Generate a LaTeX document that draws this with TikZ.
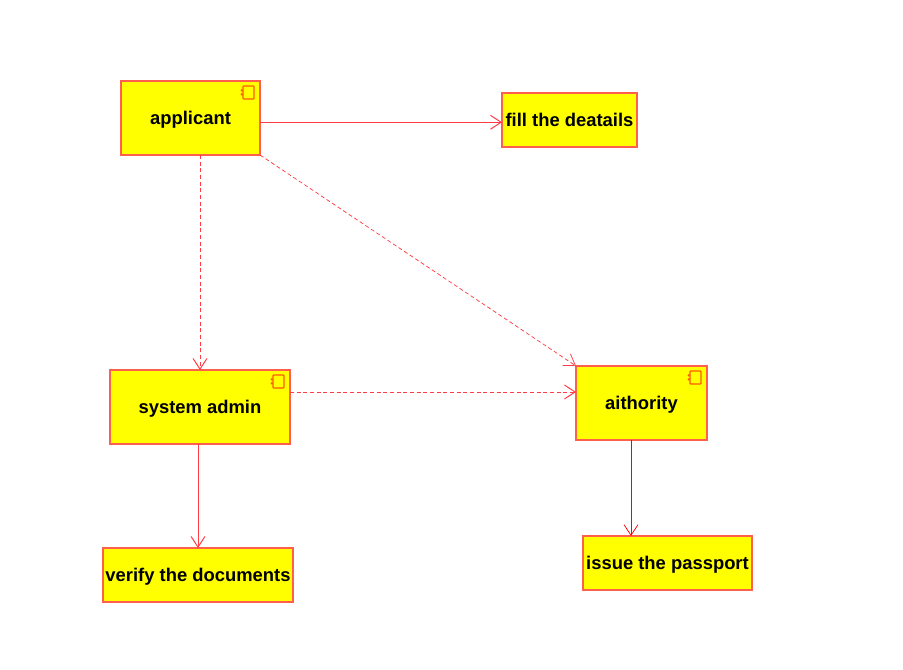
\documentclass[tikz,border=0pt]{standalone}
\usepackage{fontspec}
\setmainfont{Liberation Sans}
\usetikzlibrary{arrows.meta,positioning}
\definecolor{boxyellow}{RGB}{255,255,0}
\definecolor{boxline}{RGB}{255,95,75}
\definecolor{iconline}{RGB}{255,90,0}
\definecolor{arrline}{RGB}{255,60,70}
% small component mark in the corner of a box
\newcommand{\compmark}[1]{%
  \draw[iconline, line width=0.9pt, rounded corners=0.6pt]
    ([xshift=-12.75pt,yshift=-3.75pt]#1.north east) rectangle
    ([xshift=-4.5pt,yshift=-13.5pt]#1.north east);
  \fill[iconline] ([xshift=-13.6pt,yshift=-7pt]#1.north east) circle (1pt);
  \fill[iconline] ([xshift=-13.6pt,yshift=-10pt]#1.north east) circle (1pt);
}
\begin{document}
\begin{tikzpicture}[
      x=0.75pt, y=0.75pt,
      every node/.style={font=\fontsize{13.8pt}{16pt}\selectfont\bfseries},
      box/.style={draw=boxline, fill=boxyellow, line width=0.8pt, outer sep=0pt,
                  inner sep=0pt, align=center, text height=9.5pt, text depth=0.5pt},
      comp/.style={box, minimum height=55.5pt},
      task/.style={box, minimum height=40.5pt},
      arr/.style={-{Straight Barb[length=8pt, width=10.5pt]}, line width=0.75pt,
                  color=arrline},
      dep/.style={arr, dash pattern=on 3pt off 2pt},
    ]
    \useasboundingbox (0,0) rectangle (903,-670);
    % Top row
    \node[comp, minimum width=104.25pt, text depth=-1pt] (applicant) at (190.5,-118) {applicant};
    \node[task, minimum width=101.25pt, text depth=-1pt, right=181.5pt of applicant, yshift=-1.5pt]
      (fill) {fill the deatails};

    % Middle row
    \node[comp, minimum width=135pt, below=161.25pt of applicant, xshift=7.125pt]
      (admin) {system admin};
    \node[comp, minimum width=98.25pt, right=214.5pt of admin, yshift=3pt]
      (authority) {aithority};

    % Bottom row
    \node[task, minimum width=142.5pt, below=78pt of admin, xshift=-1.5pt]
      (verify) {verify the documents};
    \node[task, minimum width=126.75pt, below=72pt of authority, xshift=19.5pt]
      (issue) {issue the passport};

    \compmark{applicant}
    \compmark{admin}
    \compmark{authority}

    % Arrows
    \draw[arr] ([yshift=-3.2pt]applicant.east) -- ([yshift=-3.2pt]applicant.east -| fill.west);
    \draw[dep] (admin.north |- applicant.south) -- (admin.north);
    \draw[dep, line width=0.55pt] (applicant.south east) -- (authority.north west);
    \draw[dep] ([yshift=11.25pt]admin.east) -- ([yshift=11.25pt]admin.east -| authority.west);
    \draw[arr] (verify.north |- admin.south) -- (verify.north);
    \draw[arr, line width=0.55pt, color=red] ([xshift=-7.875pt]authority.south) -- ([xshift=-7.875pt]authority.south |- issue.north);
  \end{tikzpicture}
\end{document}
